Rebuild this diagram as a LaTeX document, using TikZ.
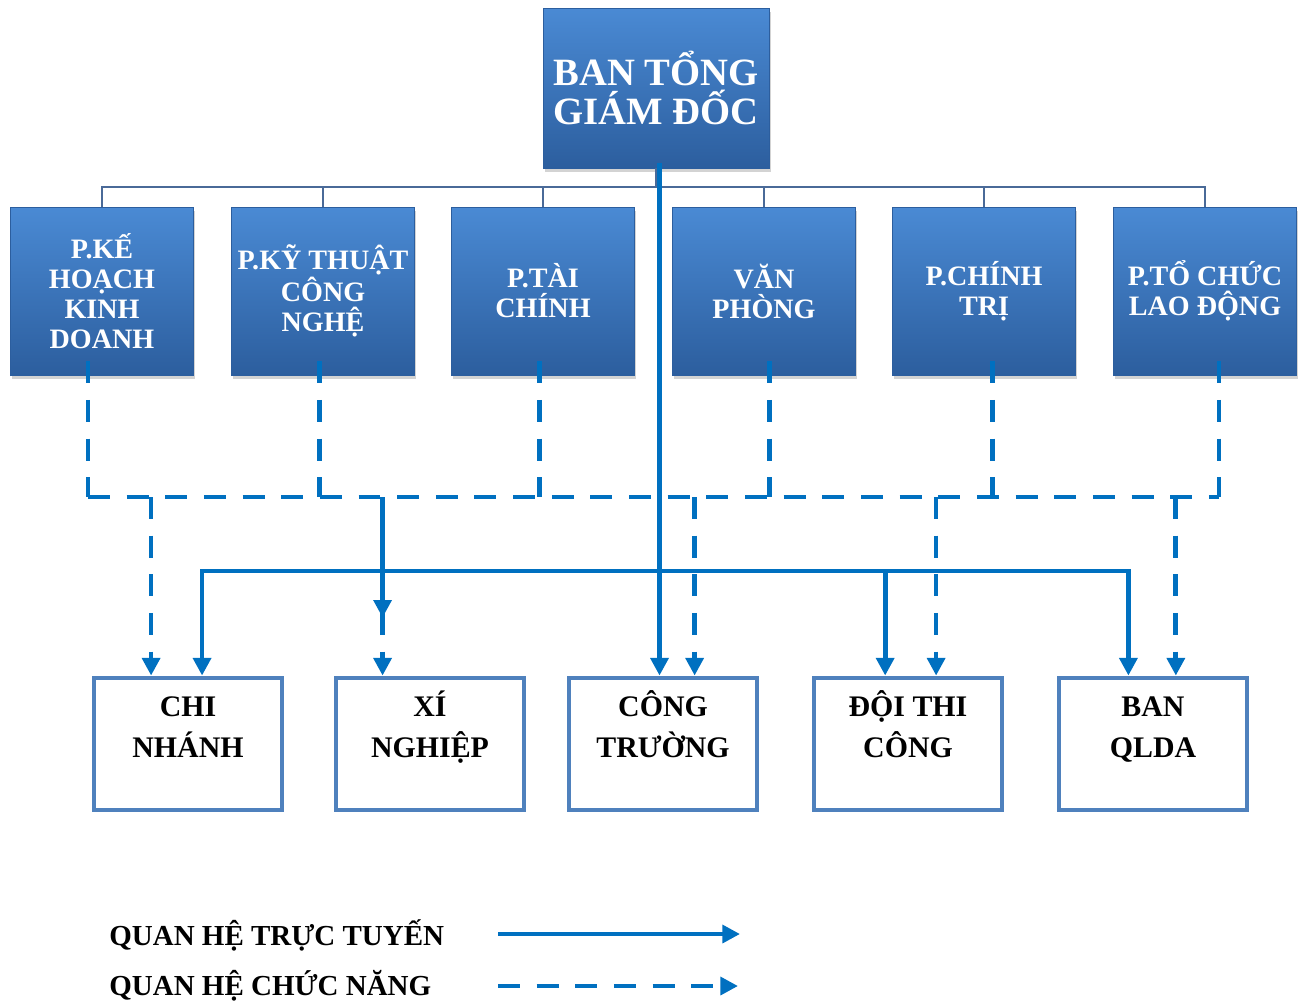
\documentclass[tikz,border=0pt]{standalone}
\usepackage{fontspec}
\setmainfont{Liberation Serif}
\usepackage{tikz}
\usepackage{xcolor}
\usetikzlibrary{shadows,arrows.meta,positioning}

\definecolor{xanhnet}{HTML}{0070C0}
\definecolor{xanhtren}{HTML}{4A8AD4}
\definecolor{xanhduoi}{HTML}{2C5E9E}
\definecolor{vienhop}{HTML}{4F81BD}
\definecolor{xamxanh}{HTML}{4A6A98}

\newcommand{\haidong}[2]{\begin{tabular}[t]{@{}c@{}}#1\\#2\end{tabular}}

\begin{document}
\begin{tikzpicture}[x=0.02cm, y=-0.02cm,
  hopxanh/.style={rectangle, top color=xanhtren, bottom color=xanhduoi, draw=xanhduoi, thin, text=white, align=center, inner sep=2pt,
    drop shadow={shadow xshift=1pt, shadow yshift=-2.5pt, opacity=0.35}},
  tonggd/.style={hopxanh, minimum width=4.52cm, minimum height=3.2cm, font=\bfseries\fontsize{22}{22.5}\selectfont},
  phong/.style={hopxanh, minimum width=3.66cm, minimum height=3.36cm, font=\bfseries\fontsize{16}{17}\selectfont},
  donvi/.style={rectangle, draw=vienhop, line width=2.8pt, minimum width=3.76cm, minimum height=2.64cm},
  chu/.style={font=\bfseries\fontsize{17}{23}\selectfont, inner sep=0pt, anchor=base},
  chuthich/.style={font=\bfseries\fontsize{16.5}{18}\selectfont, inner sep=0pt},
  cay/.style={draw=xamxanh, line width=1.6pt},
  tructuyen/.style={draw=xanhnet, line width=2.7pt},
  chucnang/.style={draw=xanhnet, line width=2.7pt, dash pattern=on 12.5pt off 9.5pt},
  muiten/.style={-{Triangle[length=10pt,width=10pt]}}]
\useasboundingbox (0,0) rectangle (1304,1005);

\node[tonggd] (tgd) at (656,88) {BAN TỔNG\\GIÁM ĐỐC};

\node[phong] (kh) at (102,291) {P.KẾ\\HOẠCH\\KINH\\DOANH};
\node[phong] (kt) at (323,291) {P.KỸ THUẬT\\CÔNG\\NGHỆ};
\node[phong] (tc) at (543,291) {P.TÀI\\CHÍNH};
\node[phong] (vp) at (764,291) {VĂN\\PHÒNG};
\node[phong] (ct) at (984,291) {P.CHÍNH\\TRỊ};
\node[phong] (ld) at (1205,291) {P.TỔ CHỨC\\LAO ĐỘNG};

\node[donvi] (chi) at (188,744) {};
\node[donvi] (xn) at (430,744) {};
\node[donvi] (ctr) at (663,744) {};
\node[donvi] (dtc) at (908,744) {};
\node[donvi] (ql) at (1153,744) {};
\node[chu] at ([yshift=-23.5pt]chi.north) {\haidong{CHI}{NHÁNH}};
\node[chu] at ([yshift=-23.5pt]xn.north) {\haidong{XÍ}{NGHIỆP}};
\node[chu] at ([yshift=-23.5pt]ctr.north) {\haidong{CÔNG}{TRƯỜNG}};
\node[chu] at ([yshift=-23.5pt]dtc.north) {\haidong{ĐỘI THI}{CÔNG}};
\node[chu] at ([yshift=-23.5pt]ql.north) {\haidong{BAN}{QLDA}};

\coordinate (cbus) at (0,187);
\coordinate (fbus) at (0,497);
\coordinate (tbus) at (0,571);

% so do cay
\draw[cay] (tgd.south) -- (tgd.south |- cbus);
\draw[cay] (kh.north) -- (kh.north |- cbus) -- (ld.north |- cbus) -- (ld.north);
\foreach \b in {kt,tc,vp,ct}
  \draw[cay] (\b.north) -- (\b.north |- cbus);

% quan he chuc nang
\foreach \b/\dx in {kh/-8pt,kt/-2pt,tc/-2pt,vp/3pt,ct/5pt,ld/8pt}
  \draw[chucnang] ([xshift=\dx,yshift=8pt]\b.south) -- ([xshift=\dx]\b.south |- fbus);
\draw[chucnang] ([xshift=-8pt]kh.south |- fbus) -- ([xshift=8pt]ld.south |- fbus);
\foreach \b/\dx in {chi/-21pt,xn/-27pt,ctr/18pt,dtc/16pt,ql/13pt}
  \draw[chucnang, muiten] ([xshift=\dx]\b.north |- fbus) -- ([xshift=\dx]\b.north);

% quan he truc tuyen
\draw[tructuyen, muiten] ([xshift=2pt,yshift=3pt]tgd.south) -- ([xshift=2pt]tgd.south |- ctr.north);
\draw[tructuyen, {Triangle[length=10pt,width=10pt]}-{Triangle[length=10pt,width=10pt]}] ([xshift=8pt]chi.north) -- ([xshift=8pt]chi.north |- tbus) -- ([xshift=-14pt]ql.north |- tbus) -- ([xshift=-14pt]ql.north);
\draw[tructuyen, muiten] ([xshift=-13pt]dtc.north |- tbus) -- ([xshift=-13pt]dtc.north);
\draw[tructuyen, muiten] ([xshift=-27pt,yshift=-8pt]xn.north |- fbus) -- ([xshift=-27pt,yshift=33pt]xn.north);

% chu thich
\node[chuthich, anchor=west] (tt) at (109,935) {QUAN HỆ TRỰC TUYẾN};
\node[chuthich, anchor=west] (cn) at (109,986) {QUAN HỆ CHỨC NĂNG};
\coordinate (tt1) at (498,934);
\coordinate (tt2) at (740,934);
\coordinate (cn1) at (498,986);
\coordinate (cn2) at (738,986);
\draw[tructuyen, muiten] (tt1) -- (tt2);
\draw[chucnang, muiten] (cn1) -- (cn2);
\end{tikzpicture}
\end{document}
